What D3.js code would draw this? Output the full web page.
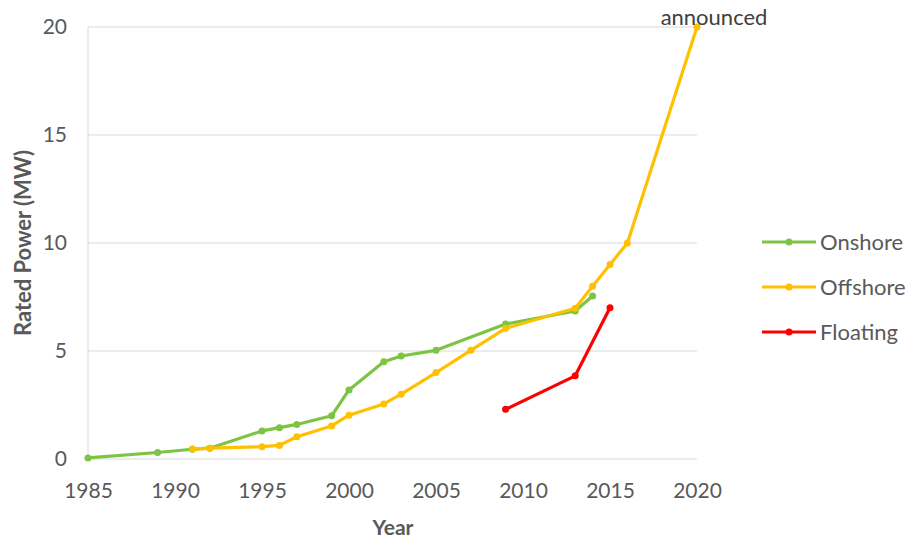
<!DOCTYPE html>
<html><head><meta charset="utf-8">
<script src="https://cdn.jsdelivr.net/npm/d3@7"></script>
<style>body{margin:0;background:#fff}svg{display:block}text{font-family:Lato,"Open Sans",sans-serif}</style>
</head><body><svg id="c" width="907" height="540"></svg>
<script>
const onshoreYears = [1985, 1989, 1991, 1992, 1995, 1996, 1997, 1999, 2000, 2002, 2003, 2005, 2009, 2013, 2014];
const onshoreValues = [0.05, 0.3, 0.45, 0.5, 1.3, 1.45, 1.6, 2.0, 3.2, 4.5, 4.77, 5.03, 6.25, 6.85, 7.55];
const offshoreYears = [1991, 1992, 1995, 1996, 1997, 1999, 2000, 2002, 2003, 2005, 2007, 2009, 2013, 2014, 2015, 2016, 2020];
const offshoreValues = [0.46, 0.5, 0.57, 0.63, 1.03, 1.53, 2.03, 2.55, 3.0, 4.0, 5.03, 6.05, 6.98, 8.0, 9.0, 10.0, 20.0];
const floatingYears = [2009, 2013, 2015];
const floatingValues = [2.3, 3.85, 7.0];
const xTicks = [1985, 1990, 1995, 2000, 2005, 2010, 2015, 2020];
const yTicks = [0, 5, 10, 15, 20];
const seriesNames = ["Onshore", "Offshore", "Floating"];
const seriesColors = ["#7DC443", "#FFC000", "#FF0000"];

const svg = d3.select("#c");
const x = d3.scaleLinear().domain([1985, 2020]).range([88, 697]);
const y = d3.scaleLinear().domain([0, 20]).range([459, 27]);
const txt = "#595959";
const ff = "Lato,'Open Sans',sans-serif";

// gridlines
svg.append("g").selectAll("line").data(yTicks).join("line")
  .attr("x1", x(1985)).attr("x2", x(2020))
  .attr("y1", d => y(d)).attr("y2", d => y(d))
  .attr("stroke", "#D9D9D9").attr("stroke-width", 1);
svg.append("line").attr("x1", x(1985)).attr("x2", x(1985)).attr("y1", y(0)).attr("y2", y(20))
  .attr("stroke", "#D9D9D9");

// y axis
const ya = svg.append("g").attr("transform", `translate(${x(1985)},0)`)
  .call(d3.axisLeft(y).tickValues(yTicks).tickSize(0).tickPadding(21));
ya.select(".domain").remove();
ya.selectAll("text").attr("fill", txt).style("font-size", "21px").style("font-family", ff);

// x axis
const xa = svg.append("g").attr("transform", `translate(0,${y(0)})`)
  .call(d3.axisBottom(x).tickValues(xTicks).tickFormat(d3.format("d")).tickSize(0).tickPadding(24));
xa.select(".domain").remove();
xa.selectAll("text").attr("fill", txt).style("font-size", "21px").style("font-family", ff);

// titles
svg.append("text").attr("x", 393).attr("y", 535).attr("text-anchor", "middle")
  .attr("fill", txt).style("font-size", "21px").style("font-weight", "bold").text("Year");
svg.append("text").attr("transform", "translate(31,243) rotate(-90)").attr("text-anchor", "middle")
  .attr("fill", txt).style("font-size", "22px").style("font-weight", "bold")
  .attr("textLength", 186).attr("lengthAdjust", "spacing").text("Rated Power (MW)");

// series
const series = [
  {name: seriesNames[0], color: seriesColors[0], pts: onshoreYears.map((d, i) => [d, onshoreValues[i]])},
  {name: seriesNames[1], color: seriesColors[1], pts: offshoreYears.map((d, i) => [d, offshoreValues[i]])},
  {name: seriesNames[2], color: seriesColors[2], pts: floatingYears.map((d, i) => [d, floatingValues[i]])}
];
const line = d3.line().x(d => x(d[0])).y(d => y(d[1]));
series.forEach(s => {
  const g = svg.append("g");
  g.append("path").attr("d", line(s.pts)).attr("fill", "none").attr("stroke", s.color)
    .attr("stroke-width", 3.2).attr("stroke-linejoin", "round").attr("stroke-linecap", "round");
  g.selectAll("circle").data(s.pts).join("circle")
    .attr("cx", d => x(d[0])).attr("cy", d => y(d[1])).attr("r", 3.5).attr("fill", s.color);
});

// annotation
svg.append("text").attr("x", 714).attr("y", 25).attr("text-anchor", "middle")
  .attr("fill", "#404040").style("font-size", "22px").text("announced");

// legend
const lg = svg.append("g");
series.forEach((s, i) => {
  const ly = 242 + i * 45;
  lg.append("line").attr("x1", 762).attr("x2", 816).attr("y1", ly).attr("y2", ly)
    .attr("stroke", s.color).attr("stroke-width", 3.2);
  lg.append("circle").attr("cx", 789).attr("cy", ly).attr("r", 3.5).attr("fill", s.color);
  lg.append("text").attr("x", 820).attr("y", ly + 8).attr("fill", txt)
    .style("font-size", "22px").text(s.name);
});
</script></body></html>
